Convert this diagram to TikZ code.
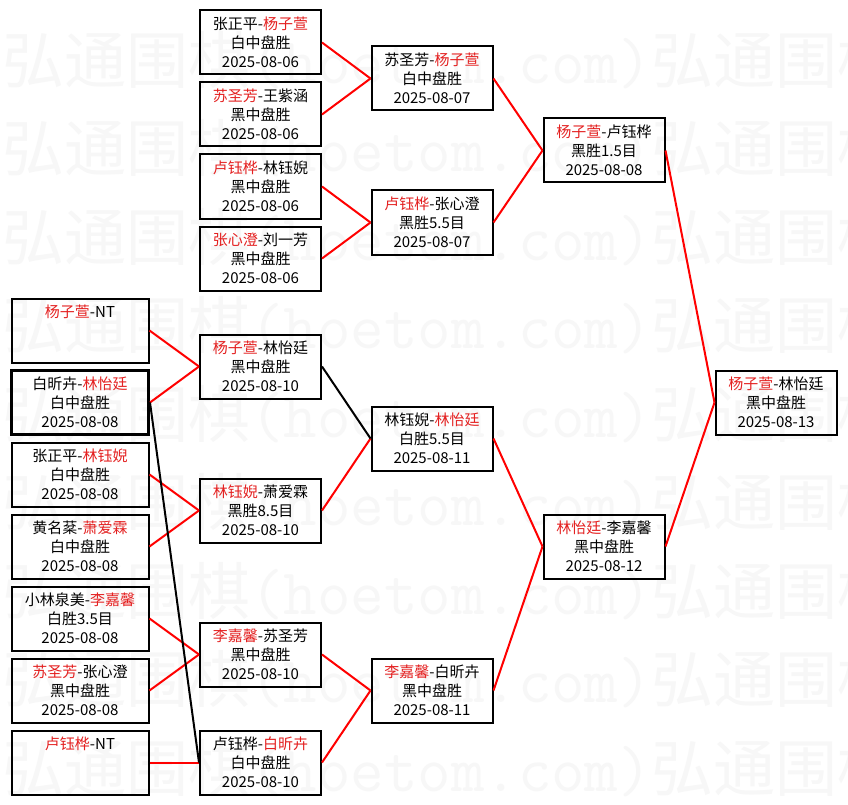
\documentclass[tikz,border=0pt]{standalone}
\usepackage{fontspec}
\setmainfont{Noto Sans CJK SC}
\usetikzlibrary{backgrounds}
\definecolor{wqred}{RGB}{228,32,32}
\tikzset{
  wq/.style = {draw=black, line width=2pt, minimum width=121pt,
    minimum height=64pt, inner sep=0pt, align=center,
    font=\fontsize{15}{19}\selectfont},
  wqw/.style = {wq, minimum width=137pt},
  wqb/.style = {wqw, line width=3pt},
  wqlig/.style = {draw=red, line width=2pt},
  wqpreta/.style = {draw=black, line width=2pt},
  wqmarca/.style = {text=black!3, inner sep=0pt, anchor=west,
    font=\fontsize{62}{62}\selectfont}
}
\newcommand{\wR}[1]{\textcolor{wqred}{#1}}

\begin{document}
\begin{tikzpicture}[x=1pt, y=-1pt]
  \fill [white] (0,0) rectangle (848,805);
  \useasboundingbox (0,0) rectangle (848,805);
  % watermark
  \begin{scope}
    \clip (0,0) rectangle (848,805);
    \foreach \i in {0,...,8}
      \node [wqmarca] (wm\i) at (2,60+88.5*\i)
        {弘通围棋{\ttfamily\fontsize{65}{65}\selectfont(hoetom.com)}弘通围棋};
  \end{scope}
  % first round
  \node [wqw] (a1) at (80,330.5) {\wR{杨子萱}-NT\\~\\~};
  \node [wqb] (a2) at (80,402.5) {白昕卉-\wR{林怡廷}\\白中盘胜\\2025-08-08};
  \node [wqw] (a3) at (80,474.5) {张正平-\wR{林钰婗}\\白中盘胜\\2025-08-08};
  \node [wqw] (a4) at (80,546.5) {黄名棻-\wR{萧爱霖}\\白中盘胜\\2025-08-08};
  \node [wqw] (a5) at (80,618.5) {小林泉美-\wR{李嘉馨}\\白胜3.5目\\2025-08-08};
  \node [wqw] (a6) at (80,690.5) {\wR{苏圣芳}-张心澄\\黑中盘胜\\2025-08-08};
  \node [wqw] (a7) at (80,762.5) {\wR{卢钰桦}-NT\\~\\~};
  % second round
  \node [wq] (b1) at (260.5,42.5) {张正平-\wR{杨子萱}\\白中盘胜\\2025-08-06};
  \node [wq] (b2) at (260.5,114.5) {\wR{苏圣芳}-王紫涵\\黑中盘胜\\2025-08-06};
  \node [wq] (b3) at (260.5,186.5) {\wR{卢钰桦}-林钰婗\\黑中盘胜\\2025-08-06};
  \node [wq] (b4) at (260.5,258.5) {\wR{张心澄}-刘一芳\\黑中盘胜\\2025-08-06};
  \node [wq] (b5) at (260.5,366.5) {\wR{杨子萱}-林怡廷\\黑中盘胜\\2025-08-10};
  \node [wq] (b6) at (260.5,510.5) {\wR{林钰婗}-萧爱霖\\黑胜8.5目\\2025-08-10};
  \node [wq] (b7) at (260.5,654.5) {\wR{李嘉馨}-苏圣芳\\黑中盘胜\\2025-08-10};
  \node [wq] (b8) at (260.5,762.5) {卢钰桦-\wR{白昕卉}\\白中盘胜\\2025-08-10};
  % third round
  \node [wq] (c1) at (432,78.5) {苏圣芳-\wR{杨子萱}\\白中盘胜\\2025-08-07};
  \node [wq] (c2) at (432,222.5) {\wR{卢钰桦}-张心澄\\黑胜5.5目\\2025-08-07};
  \node [wq] (c3) at (432,438.5) {林钰婗-\wR{林怡廷}\\白胜5.5目\\2025-08-11};
  \node [wq] (c4) at (432,690.5) {\wR{李嘉馨}-白昕卉\\黑中盘胜\\2025-08-11};
  % semifinals and final
  \node [wq] (d1) at (604,150.5) {\wR{杨子萱}-卢钰桦\\黑胜1.5目\\2025-08-08};
  \node [wq] (d2) at (604,546.5) {\wR{林怡廷}-李嘉馨\\黑中盘胜\\2025-08-12};
  \node [wq] (f) at (776,402.5) {\wR{杨子萱}-林怡廷\\黑中盘胜\\2025-08-13};
  % connectors
  \foreach \u/\v in {a1/b5, a2/b5, a3/b6, a4/b6, a5/b7, a6/b7, a7/b8,
      b1/c1, b2/c1, b3/c2, b4/c2, b6/c3, b7/c4, b8/c4,
      c1/d1, c2/d1, c3/d2, c4/d2, d1/f, d2/f}
    \draw [wqlig] (\u.east) -- (\v.west);
  \foreach \u/\v in {a2/b8, b5/c3}
    \draw [wqpreta] (\u.east) -- (\v.west);
\end{tikzpicture}
\end{document}
